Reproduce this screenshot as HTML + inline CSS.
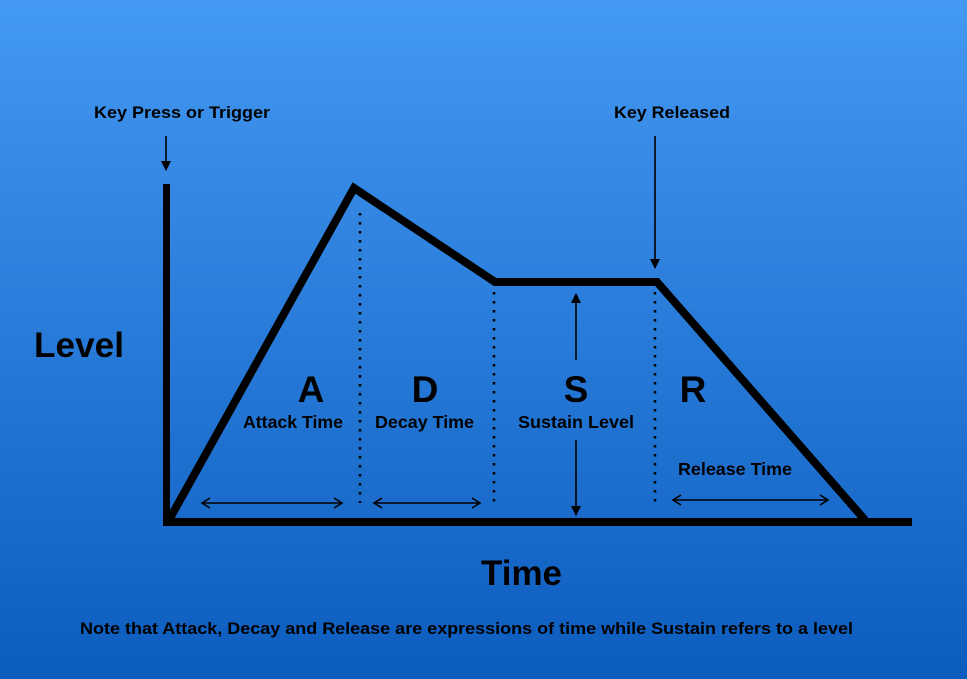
<!DOCTYPE html>
<html><head><style>
body{margin:0;width:967px;height:679px;overflow:hidden;background:linear-gradient(#4499f2,#0c5cbe);}
svg{display:block}
text{font-family:"Liberation Sans",Arial,sans-serif;font-weight:bold;fill:#000}
</style></head><body>
<svg width="967" height="679" viewBox="0 0 967 679">
<defs>
<marker id="ah" markerWidth="12" markerHeight="12" refX="10" refY="6" orient="auto-start-reverse" markerUnits="userSpaceOnUse">
<path d="M2,1 L10,6 L2,11" fill="none" stroke="#000" stroke-width="1.6"/></marker>
<marker id="sa" markerWidth="10" markerHeight="10" refX="9" refY="5" orient="auto" markerUnits="userSpaceOnUse">
<path d="M0,0 L10,5 L0,10 Z" fill="#000"/></marker>
</defs>
<line x1="166.5" y1="184" x2="166.5" y2="526" stroke="#000" stroke-width="7"/>
<line x1="163" y1="522" x2="912" y2="522" stroke="#000" stroke-width="8"/>
<polyline points="169,520 354,188 495,282 657,282 865,520" fill="none" stroke="#000" stroke-width="8" stroke-linejoin="miter"/>
<g stroke="#000" stroke-width="2.5" stroke-dasharray="2.5,6.5">
<line x1="360" y1="213" x2="360" y2="503"/>
<line x1="494" y1="292" x2="494" y2="503"/>
<line x1="655" y1="292" x2="655" y2="503"/>
</g>
<g stroke="#000" stroke-width="1.6" fill="none">
<line x1="202" y1="503" x2="342" y2="503" marker-start="url(#ah)" marker-end="url(#ah)"/>
<line x1="374" y1="503" x2="480" y2="503" marker-start="url(#ah)" marker-end="url(#ah)"/>
<line x1="673" y1="500" x2="828" y2="500" marker-start="url(#ah)" marker-end="url(#ah)"/>
<line x1="576" y1="360" x2="576" y2="294" marker-end="url(#sa)"/>
<line x1="576" y1="440" x2="576" y2="515" marker-end="url(#sa)"/>
<line x1="166" y1="136" x2="166" y2="170" marker-end="url(#sa)"/>
<line x1="655" y1="136" x2="655" y2="268" marker-end="url(#sa)"/>
</g>
<g lengthAdjust="spacingAndGlyphs">
<text x="94" y="118" font-size="17" textLength="176" lengthAdjust="spacingAndGlyphs">Key Press or Trigger</text>
<text x="614" y="118" font-size="17" textLength="116" lengthAdjust="spacingAndGlyphs">Key Released</text>
<text x="34" y="357" font-size="35" textLength="90" lengthAdjust="spacingAndGlyphs">Level</text>
<text x="311" y="402" font-size="37" text-anchor="middle">A</text>
<text x="425" y="402" font-size="37" text-anchor="middle">D</text>
<text x="576" y="402" font-size="37" text-anchor="middle">S</text>
<text x="693" y="402" font-size="37" text-anchor="middle">R</text>
<text x="243" y="428" font-size="17.5" textLength="100" lengthAdjust="spacingAndGlyphs">Attack Time</text>
<text x="375" y="428" font-size="17.5" textLength="99" lengthAdjust="spacingAndGlyphs">Decay Time</text>
<text x="518" y="428" font-size="17.5" textLength="116" lengthAdjust="spacingAndGlyphs">Sustain Level</text>
<text x="678" y="475" font-size="17.5" textLength="114" lengthAdjust="spacingAndGlyphs">Release Time</text>
<text x="481" y="585" font-size="35" textLength="81" lengthAdjust="spacingAndGlyphs">Time</text>
<text x="80" y="634" font-size="16.5" textLength="773" lengthAdjust="spacingAndGlyphs">Note that Attack, Decay and Release are expressions of time while Sustain refers to a level</text>
</g>
</svg>
</body></html>
